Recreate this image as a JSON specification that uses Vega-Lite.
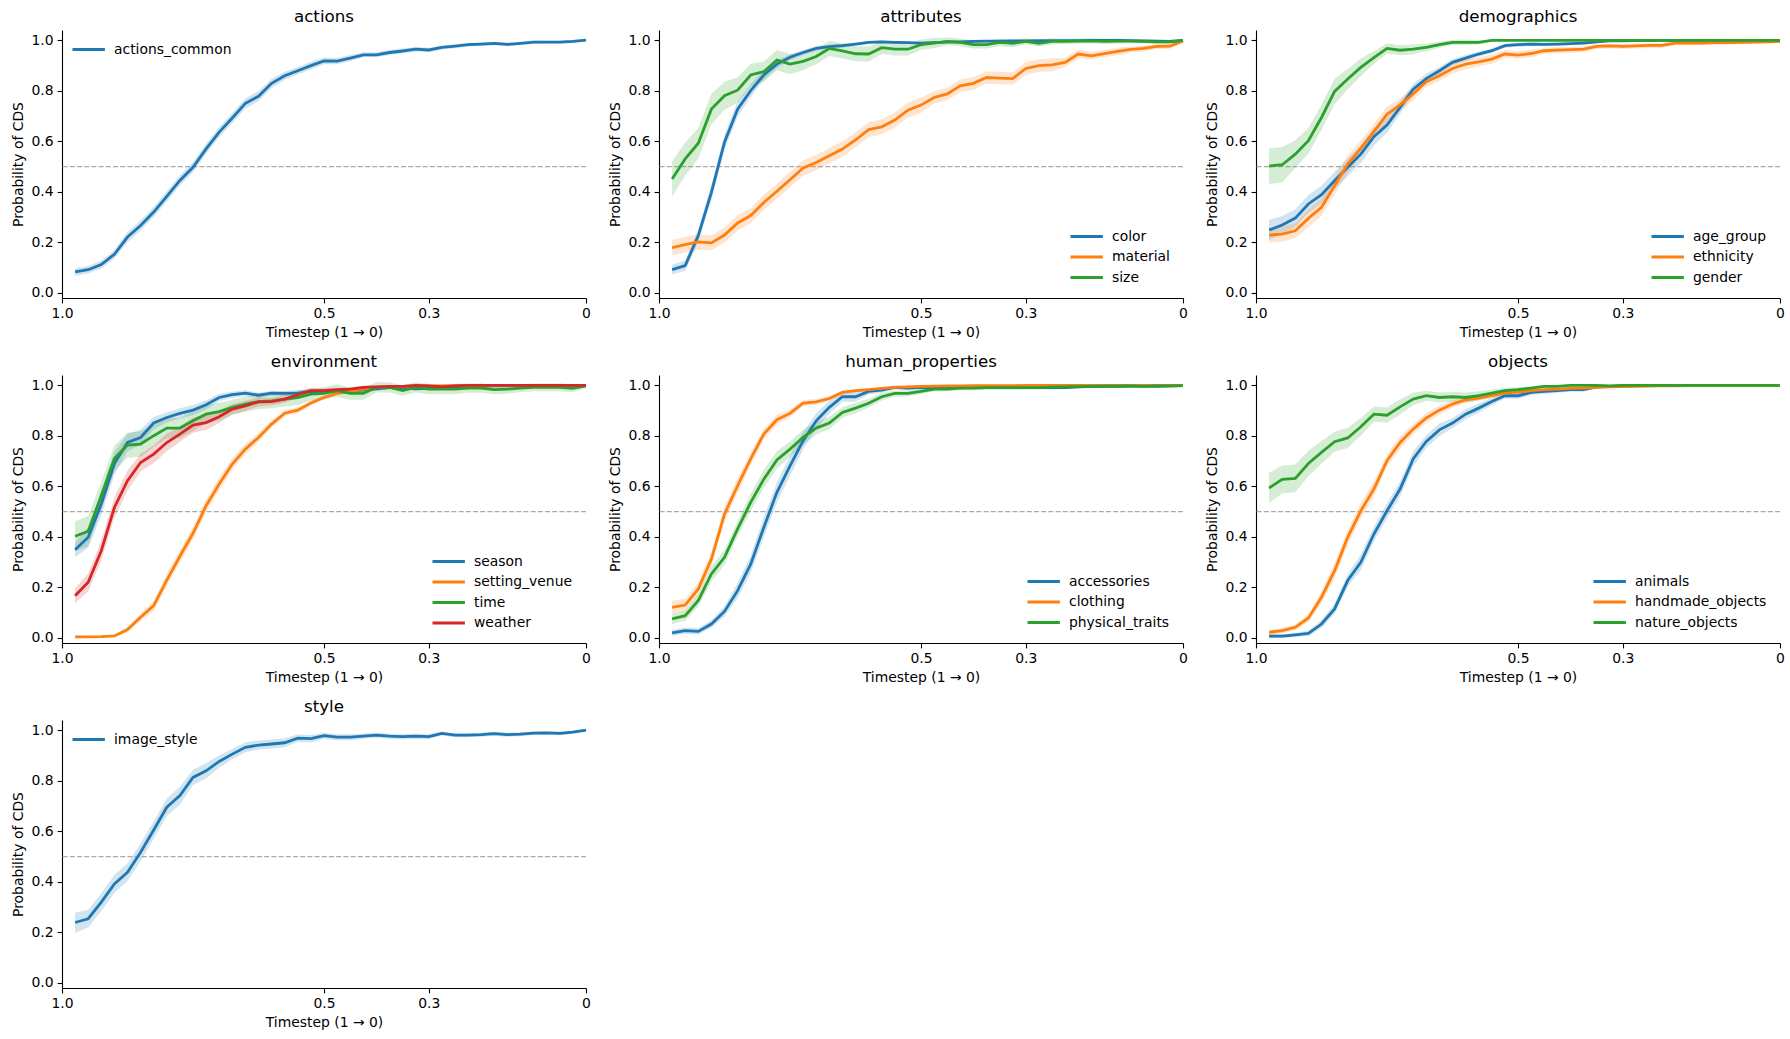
{
"$schema": "https://vega.github.io/schema/vega-lite/v6.json",
"padding": {"left": 11, "top": 9, "right": 5, "bottom": 5},
"background": "white",
"config": {
  "font": "DejaVu Sans",
  "view": {"stroke": null},
  "axis": {"grid": false, "domainColor": "#000", "domainWidth": 1.1, "tickColor": "#000", "tickWidth": 1.1, "tickSize": 4.9, "labelFontSize": 13.9, "labelColor": "#000", "labelPadding": 4, "titleFontSize": 13.9, "titleFontWeight": "normal", "titleColor": "#000", "titlePadding": 5, "labelFlush": false, "labelOverlap": false},
  "axisY": {"titlePadding": 6},
  "title": {"fontSize": 16.7, "fontWeight": "normal", "color": "#000", "offset": 4, "anchor": "middle", "frame": "group"},
  "legend": {"symbolType": "M-1,0H2.6", "symbolSize": 324, "symbolStrokeWidth": 2.8, "symbolOpacity": 1, "labelFontSize": 13.9, "labelColor": "#000", "labelOffset": 22, "rowPadding": 2.5, "padding": 0, "offset": 11}
},
"datasets": {"d": [
{"p":"actions","s":"actions_common","t":[0.975,0.95,0.925,0.9,0.875,0.85,0.825,0.8,0.775,0.75,0.725,0.7,0.675,0.65,0.625,0.6,0.575,0.55,0.525,0.5,0.475,0.45,0.425,0.4,0.375,0.35,0.325,0.3,0.275,0.25,0.225,0.2,0.175,0.15,0.125,0.1,0.075,0.05,0.025,0],
"y":[0.083,0.092,0.112,0.153,0.221,0.267,0.320,0.382,0.445,0.497,0.570,0.636,0.692,0.750,0.778,0.829,0.859,0.879,0.899,0.918,0.917,0.929,0.942,0.942,0.951,0.957,0.964,0.961,0.971,0.976,0.982,0.984,0.987,0.983,0.987,0.992,0.992,0.992,0.995,1.0],
"e":[0.015,0.015,0.015,0.017,0.02,0.02,0.02,0.02,0.02,0.02,0.02,0.02,0.02,0.02,0.02,0.018,0.016,0.015,0.015,0.013,0.012,0.012,0.01,0.01,0.01,0.01,0.009,0.009,0.008,0.008,0.007,0.007,0.007,0.007,0.006,0.006,0.005,0.005,0.005,0.003]},
{"p":"attributes","s":"color","t":[0.975,0.95,0.925,0.9,0.875,0.85,0.825,0.8,0.775,0.75,0.725,0.7,0.675,0.65,0.625,0.6,0.575,0.55,0.525,0.5,0.475,0.45,0.425,0.4,0.375,0.35,0.325,0.3,0.275,0.25,0.225,0.2,0.175,0.15,0.125,0.1,0.075,0.05,0.025,0],
"y":[0.092,0.108,0.227,0.398,0.596,0.727,0.800,0.862,0.905,0.932,0.951,0.967,0.974,0.978,0.984,0.991,0.993,0.991,0.990,0.988,0.990,0.992,0.993,0.995,0.996,0.996,0.997,0.997,0.998,0.998,0.998,0.998,0.999,0.999,0.999,0.998,0.997,0.996,0.995,0.999],
"e":[0.02,0.02,0.025,0.03,0.03,0.03,0.025,0.02,0.015,0.012,0.01,0.01,0.008,0.008,0.006,0.005,0.005,0.005,0.005,0.005,0.005,0.004,0.004,0.003,0.003,0.003,0.003,0.003,0.002,0.002,0.002,0.002,0.002,0.002,0.002,0.002,0.003,0.003,0.004,0.002]},
{"p":"attributes","s":"material","t":[0.975,0.95,0.925,0.9,0.875,0.85,0.825,0.8,0.775,0.75,0.725,0.7,0.675,0.65,0.625,0.6,0.575,0.55,0.525,0.5,0.475,0.45,0.425,0.4,0.375,0.35,0.325,0.3,0.275,0.25,0.225,0.2,0.175,0.15,0.125,0.1,0.075,0.05,0.025,0],
"y":[0.179,0.191,0.202,0.198,0.229,0.277,0.306,0.358,0.402,0.448,0.494,0.516,0.543,0.569,0.605,0.646,0.657,0.684,0.723,0.743,0.773,0.787,0.819,0.829,0.852,0.850,0.848,0.888,0.899,0.902,0.912,0.945,0.938,0.947,0.955,0.963,0.967,0.975,0.976,0.997],
"e":[0.03,0.03,0.03,0.03,0.03,0.03,0.03,0.03,0.03,0.03,0.03,0.03,0.03,0.03,0.03,0.03,0.03,0.03,0.03,0.03,0.025,0.025,0.025,0.025,0.025,0.025,0.025,0.025,0.025,0.025,0.018,0.018,0.015,0.015,0.015,0.012,0.012,0.01,0.01,0.006]},
{"p":"attributes","s":"size","t":[0.975,0.95,0.925,0.9,0.875,0.85,0.825,0.8,0.775,0.75,0.725,0.7,0.675,0.65,0.625,0.6,0.575,0.55,0.525,0.5,0.475,0.45,0.425,0.4,0.375,0.35,0.325,0.3,0.275,0.25,0.225,0.2,0.175,0.15,0.125,0.1,0.075,0.05,0.025,0],
"y":[0.451,0.530,0.592,0.727,0.780,0.802,0.862,0.875,0.921,0.905,0.916,0.935,0.967,0.957,0.946,0.945,0.970,0.964,0.964,0.982,0.988,0.995,0.991,0.982,0.982,0.991,0.987,0.995,0.987,0.995,0.995,0.996,0.997,0.995,0.996,0.996,0.995,0.993,0.993,0.999],
"e":[0.07,0.065,0.06,0.06,0.055,0.05,0.045,0.04,0.04,0.04,0.035,0.03,0.03,0.03,0.03,0.03,0.025,0.025,0.025,0.02,0.02,0.015,0.015,0.015,0.015,0.015,0.015,0.012,0.012,0.012,0.01,0.01,0.01,0.01,0.01,0.008,0.008,0.008,0.008,0.005]},
{"p":"demographics","s":"age_group","t":[0.975,0.95,0.925,0.9,0.875,0.85,0.825,0.8,0.775,0.75,0.725,0.7,0.675,0.65,0.625,0.6,0.575,0.55,0.525,0.5,0.475,0.45,0.425,0.4,0.375,0.35,0.325,0.3,0.275,0.25,0.225,0.2,0.175,0.15,0.125,0.1,0.075,0.05,0.025,0],
"y":[0.249,0.269,0.296,0.352,0.389,0.444,0.497,0.549,0.618,0.664,0.734,0.806,0.848,0.879,0.912,0.929,0.945,0.958,0.978,0.982,0.984,0.983,0.984,0.986,0.988,0.993,0.997,0.997,0.998,0.998,0.999,0.999,0.999,0.999,0.999,0.999,0.999,0.999,0.999,0.999],
"e":[0.04,0.035,0.035,0.035,0.035,0.035,0.035,0.035,0.035,0.03,0.025,0.02,0.02,0.015,0.012,0.012,0.01,0.01,0.008,0.008,0.008,0.007,0.007,0.006,0.005,0.005,0.004,0.003,0.003,0.003,0.002,0.002,0.002,0.002,0.002,0.002,0.002,0.002,0.002,0.002]},
{"p":"demographics","s":"ethnicity","t":[0.975,0.95,0.925,0.9,0.875,0.85,0.825,0.8,0.775,0.75,0.725,0.7,0.675,0.65,0.625,0.6,0.575,0.55,0.525,0.5,0.475,0.45,0.425,0.4,0.375,0.35,0.325,0.3,0.275,0.25,0.225,0.2,0.175,0.15,0.125,0.1,0.075,0.05,0.025,0],
"y":[0.229,0.233,0.246,0.295,0.339,0.424,0.510,0.572,0.638,0.707,0.744,0.787,0.835,0.859,0.888,0.905,0.914,0.925,0.945,0.941,0.947,0.958,0.960,0.962,0.964,0.975,0.977,0.975,0.977,0.979,0.979,0.988,0.988,0.988,0.990,0.990,0.991,0.992,0.993,0.995],
"e":[0.03,0.03,0.03,0.035,0.035,0.035,0.035,0.03,0.03,0.03,0.025,0.025,0.02,0.02,0.02,0.02,0.018,0.018,0.015,0.015,0.015,0.012,0.012,0.012,0.012,0.01,0.01,0.01,0.01,0.01,0.01,0.008,0.008,0.008,0.008,0.007,0.007,0.007,0.006,0.006]},
{"p":"demographics","s":"gender","t":[0.975,0.95,0.925,0.9,0.875,0.85,0.825,0.8,0.775,0.75,0.725,0.7,0.675,0.65,0.625,0.6,0.575,0.55,0.525,0.5,0.475,0.45,0.425,0.4,0.375,0.35,0.325,0.3,0.275,0.25,0.225,0.2,0.175,0.15,0.125,0.1,0.075,0.05,0.025,0],
"y":[0.502,0.507,0.549,0.602,0.694,0.797,0.846,0.892,0.931,0.967,0.960,0.964,0.971,0.982,0.991,0.991,0.991,0.999,0.999,0.999,0.999,0.999,0.999,0.999,0.999,0.999,0.999,0.999,0.999,0.999,0.999,0.999,0.999,0.999,0.999,0.999,0.999,0.999,0.999,0.999],
"e":[0.07,0.07,0.055,0.05,0.05,0.05,0.04,0.035,0.025,0.02,0.02,0.02,0.015,0.012,0.01,0.01,0.008,0.003,0.002,0.002,0.002,0.002,0.002,0.002,0.002,0.002,0.002,0.002,0.002,0.002,0.002,0.002,0.002,0.002,0.002,0.002,0.002,0.002,0.002,0.002]},
{"p":"environment","s":"season","t":[0.975,0.95,0.925,0.9,0.875,0.85,0.825,0.8,0.775,0.75,0.725,0.7,0.675,0.65,0.625,0.6,0.575,0.55,0.525,0.5,0.475,0.45,0.425,0.4,0.375,0.35,0.325,0.3,0.275,0.25,0.225,0.2,0.175,0.15,0.125,0.1,0.075,0.05,0.025,0],
"y":[0.349,0.398,0.530,0.690,0.773,0.793,0.850,0.872,0.888,0.901,0.922,0.951,0.962,0.968,0.960,0.968,0.967,0.968,0.975,0.974,0.975,0.977,0.980,0.985,0.990,0.990,0.985,0.988,0.990,0.990,0.990,0.995,0.997,0.997,0.997,0.998,0.998,0.998,0.998,0.999],
"e":[0.03,0.04,0.045,0.045,0.035,0.03,0.025,0.02,0.02,0.02,0.018,0.015,0.012,0.012,0.01,0.01,0.01,0.01,0.01,0.01,0.008,0.008,0.008,0.007,0.006,0.006,0.006,0.006,0.005,0.005,0.005,0.004,0.003,0.003,0.003,0.003,0.003,0.003,0.003,0.002]},
{"p":"environment","s":"setting_venue","t":[0.975,0.95,0.925,0.9,0.875,0.85,0.825,0.8,0.775,0.75,0.725,0.7,0.675,0.65,0.625,0.6,0.575,0.55,0.525,0.5,0.475,0.45,0.425,0.4,0.375,0.35,0.325,0.3,0.275,0.25,0.225,0.2,0.175,0.15,0.125,0.1,0.075,0.05,0.025,0],
"y":[0.004,0.004,0.005,0.008,0.033,0.082,0.128,0.229,0.323,0.414,0.523,0.609,0.688,0.747,0.793,0.846,0.889,0.901,0.929,0.951,0.967,0.975,0.984,0.991,0.993,0.995,0.996,0.997,0.997,0.998,0.998,0.998,0.999,0.999,0.999,0.999,0.999,0.999,0.999,0.999],
"e":[0.003,0.003,0.003,0.004,0.01,0.015,0.02,0.025,0.025,0.025,0.025,0.025,0.022,0.02,0.018,0.015,0.012,0.012,0.01,0.008,0.006,0.005,0.005,0.004,0.003,0.003,0.003,0.003,0.003,0.003,0.003,0.003,0.003,0.003,0.003,0.003,0.003,0.003,0.003,0.003]},
{"p":"environment","s":"time","t":[0.975,0.95,0.925,0.9,0.875,0.85,0.825,0.8,0.775,0.75,0.725,0.7,0.675,0.65,0.625,0.6,0.575,0.55,0.525,0.5,0.475,0.45,0.425,0.4,0.375,0.35,0.325,0.3,0.275,0.25,0.225,0.2,0.175,0.15,0.125,0.1,0.075,0.05,0.025,0],
"y":[0.402,0.422,0.563,0.710,0.763,0.767,0.800,0.830,0.830,0.859,0.885,0.895,0.912,0.925,0.935,0.938,0.945,0.951,0.964,0.967,0.978,0.967,0.967,0.991,0.991,0.978,0.991,0.984,0.984,0.984,0.988,0.988,0.982,0.984,0.988,0.991,0.991,0.991,0.987,0.997],
"e":[0.06,0.06,0.055,0.05,0.05,0.05,0.045,0.04,0.04,0.04,0.035,0.035,0.03,0.03,0.03,0.03,0.03,0.03,0.025,0.025,0.025,0.025,0.025,0.02,0.02,0.02,0.02,0.02,0.02,0.02,0.018,0.018,0.018,0.018,0.015,0.015,0.015,0.015,0.015,0.008]},
{"p":"environment","s":"weather","t":[0.975,0.95,0.925,0.9,0.875,0.85,0.825,0.8,0.775,0.75,0.725,0.7,0.675,0.65,0.625,0.6,0.575,0.55,0.525,0.5,0.475,0.45,0.425,0.4,0.375,0.35,0.325,0.3,0.275,0.25,0.225,0.2,0.175,0.15,0.125,0.1,0.075,0.05,0.025,0],
"y":[0.167,0.220,0.345,0.516,0.622,0.694,0.727,0.773,0.806,0.842,0.852,0.875,0.905,0.918,0.934,0.935,0.945,0.962,0.978,0.978,0.982,0.984,0.991,0.993,0.995,0.995,0.999,0.997,0.993,0.997,0.999,0.999,0.999,0.999,0.999,0.999,0.999,0.999,0.999,0.999],
"e":[0.03,0.035,0.04,0.04,0.04,0.035,0.035,0.035,0.03,0.03,0.03,0.025,0.02,0.02,0.018,0.015,0.015,0.012,0.01,0.01,0.008,0.008,0.006,0.005,0.005,0.005,0.003,0.003,0.003,0.003,0.003,0.003,0.003,0.003,0.003,0.003,0.003,0.003,0.003,0.003]},
{"p":"human_properties","s":"accessories","t":[0.975,0.95,0.925,0.9,0.875,0.85,0.825,0.8,0.775,0.75,0.725,0.7,0.675,0.65,0.625,0.6,0.575,0.55,0.525,0.5,0.475,0.45,0.425,0.4,0.375,0.35,0.325,0.3,0.275,0.25,0.225,0.2,0.175,0.15,0.125,0.1,0.075,0.05,0.025,0],
"y":[0.020,0.029,0.026,0.055,0.105,0.187,0.292,0.437,0.576,0.681,0.780,0.859,0.912,0.954,0.954,0.975,0.980,0.991,0.988,0.991,0.990,0.990,0.990,0.990,0.990,0.990,0.990,0.990,0.990,0.990,0.990,0.993,0.995,0.995,0.995,0.996,0.997,0.995,0.997,0.998],
"e":[0.012,0.012,0.012,0.015,0.02,0.03,0.035,0.04,0.04,0.04,0.035,0.03,0.025,0.02,0.02,0.012,0.01,0.008,0.008,0.008,0.007,0.007,0.007,0.007,0.007,0.007,0.007,0.007,0.007,0.007,0.006,0.006,0.006,0.006,0.006,0.006,0.006,0.006,0.006,0.006]},
{"p":"human_properties","s":"clothing","t":[0.975,0.95,0.925,0.9,0.875,0.85,0.825,0.8,0.775,0.75,0.725,0.7,0.675,0.65,0.625,0.6,0.575,0.55,0.525,0.5,0.475,0.45,0.425,0.4,0.375,0.35,0.325,0.3,0.275,0.25,0.225,0.2,0.175,0.15,0.125,0.1,0.075,0.05,0.025,0],
"y":[0.121,0.130,0.194,0.312,0.490,0.602,0.708,0.806,0.863,0.888,0.929,0.934,0.947,0.971,0.978,0.982,0.987,0.991,0.993,0.995,0.996,0.997,0.997,0.998,0.998,0.998,0.998,0.999,0.999,0.999,0.999,0.999,0.999,0.999,0.999,0.999,0.999,0.999,0.999,0.999],
"e":[0.025,0.025,0.025,0.03,0.03,0.03,0.025,0.02,0.02,0.015,0.012,0.012,0.01,0.008,0.007,0.006,0.005,0.005,0.004,0.004,0.003,0.003,0.003,0.003,0.003,0.003,0.003,0.003,0.003,0.003,0.003,0.003,0.003,0.003,0.003,0.003,0.003,0.003,0.003,0.003]},
{"p":"human_properties","s":"physical_traits","t":[0.975,0.95,0.925,0.9,0.875,0.85,0.825,0.8,0.775,0.75,0.725,0.7,0.675,0.65,0.625,0.6,0.575,0.55,0.525,0.5,0.475,0.45,0.425,0.4,0.375,0.35,0.325,0.3,0.275,0.25,0.225,0.2,0.175,0.15,0.125,0.1,0.075,0.05,0.025,0],
"y":[0.075,0.088,0.148,0.253,0.319,0.431,0.536,0.628,0.704,0.747,0.793,0.830,0.850,0.892,0.909,0.928,0.954,0.967,0.967,0.975,0.984,0.984,0.988,0.988,0.990,0.990,0.990,0.990,0.990,0.992,0.993,0.994,0.995,0.996,0.996,0.997,0.995,0.997,0.997,0.998],
"e":[0.02,0.02,0.025,0.03,0.03,0.03,0.035,0.035,0.035,0.03,0.03,0.025,0.025,0.02,0.02,0.018,0.015,0.012,0.012,0.01,0.008,0.008,0.007,0.006,0.006,0.006,0.006,0.006,0.006,0.005,0.005,0.005,0.005,0.005,0.005,0.005,0.005,0.005,0.005,0.005]},
{"p":"objects","s":"animals","t":[0.975,0.95,0.925,0.9,0.875,0.85,0.825,0.8,0.775,0.75,0.725,0.7,0.675,0.65,0.625,0.6,0.575,0.55,0.525,0.5,0.475,0.45,0.425,0.4,0.375,0.35,0.325,0.3,0.275,0.25,0.225,0.2,0.175,0.15,0.125,0.1,0.075,0.05,0.025,0],
"y":[0.007,0.007,0.012,0.018,0.055,0.115,0.227,0.299,0.411,0.503,0.589,0.708,0.777,0.823,0.850,0.885,0.909,0.935,0.958,0.958,0.971,0.975,0.978,0.982,0.982,0.993,0.995,0.997,0.998,0.998,0.999,0.999,0.999,0.999,0.999,0.999,0.999,0.999,0.999,0.999],
"e":[0.008,0.008,0.008,0.01,0.015,0.02,0.025,0.03,0.03,0.03,0.03,0.03,0.025,0.025,0.02,0.02,0.018,0.015,0.012,0.012,0.01,0.01,0.008,0.008,0.008,0.006,0.005,0.004,0.004,0.003,0.003,0.003,0.003,0.003,0.003,0.003,0.003,0.003,0.003,0.003]},
{"p":"objects","s":"handmade_objects","t":[0.975,0.95,0.925,0.9,0.875,0.85,0.825,0.8,0.775,0.75,0.725,0.7,0.675,0.65,0.625,0.6,0.575,0.55,0.525,0.5,0.475,0.45,0.425,0.4,0.375,0.35,0.325,0.3,0.275,0.25,0.225,0.2,0.175,0.15,0.125,0.1,0.075,0.05,0.025,0],
"y":[0.022,0.029,0.042,0.079,0.161,0.266,0.398,0.503,0.589,0.701,0.773,0.826,0.870,0.901,0.925,0.942,0.949,0.958,0.968,0.972,0.978,0.982,0.984,0.987,0.988,0.991,0.993,0.994,0.995,0.996,0.997,0.997,0.998,0.998,0.998,0.999,0.999,0.999,0.999,0.999],
"e":[0.01,0.01,0.012,0.015,0.025,0.03,0.03,0.03,0.03,0.025,0.025,0.02,0.02,0.018,0.015,0.012,0.01,0.01,0.008,0.008,0.007,0.006,0.006,0.005,0.005,0.004,0.004,0.004,0.004,0.004,0.004,0.004,0.004,0.004,0.004,0.004,0.004,0.004,0.004,0.004]},
{"p":"objects","s":"nature_objects","t":[0.975,0.95,0.925,0.9,0.875,0.85,0.825,0.8,0.775,0.75,0.725,0.7,0.675,0.65,0.625,0.6,0.575,0.55,0.525,0.5,0.475,0.45,0.425,0.4,0.375,0.35,0.325,0.3,0.275,0.25,0.225,0.2,0.175,0.15,0.125,0.1,0.075,0.05,0.025,0],
"y":[0.593,0.627,0.631,0.690,0.734,0.776,0.791,0.835,0.885,0.881,0.914,0.945,0.958,0.951,0.954,0.951,0.958,0.968,0.978,0.982,0.988,0.995,0.995,0.999,0.999,0.999,0.997,0.999,0.999,0.999,0.999,0.999,0.999,0.999,0.999,0.999,0.999,0.999,0.999,0.999],
"e":[0.06,0.055,0.055,0.05,0.045,0.04,0.04,0.035,0.03,0.03,0.03,0.025,0.02,0.02,0.02,0.02,0.018,0.015,0.012,0.01,0.008,0.006,0.005,0.003,0.003,0.003,0.003,0.002,0.002,0.002,0.002,0.002,0.002,0.002,0.002,0.002,0.002,0.002,0.002,0.002]},
{"p":"style","s":"image_style","t":[0.975,0.95,0.925,0.9,0.875,0.85,0.825,0.8,0.775,0.75,0.725,0.7,0.675,0.65,0.625,0.6,0.575,0.55,0.525,0.5,0.475,0.45,0.425,0.4,0.375,0.35,0.325,0.3,0.275,0.25,0.225,0.2,0.175,0.15,0.125,0.1,0.075,0.05,0.025,0],
"y":[0.239,0.254,0.320,0.392,0.438,0.517,0.605,0.695,0.741,0.813,0.839,0.876,0.905,0.932,0.941,0.945,0.950,0.968,0.966,0.978,0.972,0.972,0.976,0.980,0.976,0.974,0.976,0.974,0.987,0.980,0.980,0.982,0.986,0.982,0.984,0.988,0.989,0.987,0.992,1.0],
"e":[0.04,0.035,0.035,0.035,0.035,0.035,0.035,0.035,0.035,0.03,0.03,0.025,0.02,0.02,0.018,0.018,0.018,0.015,0.015,0.012,0.012,0.012,0.01,0.01,0.01,0.01,0.01,0.01,0.008,0.008,0.008,0.008,0.008,0.008,0.008,0.007,0.007,0.007,0.006,0.004]}
]},
"data": {"name": "d"},
"columns": 3,
"spacing": {"row": 14, "column": 16},
"resolve": {"scale": {"color": "independent", "fill": "independent", "x": "independent", "y": "independent"}, "legend": {"color": "independent", "fill": "independent"}},
"concat": [
{"title": "actions", "width": 524, "height": 268,
 "transform": [{"filter": "datum.p == 'actions'"}, {"flatten": ["t", "y", "e"]}],
 "layer": [
  {"transform": [{"aggregate": [{"op": "count", "as": "n"}]}], "mark": {"type": "rule", "color": "#aaaaaa", "strokeWidth": 1.3, "strokeDash": [5, 2.2]}, "encoding": {"y": {"datum": 0.5, "type": "quantitative"}}},
  {"mark": {"type": "errorband", "band": {"opacity": 0.2}}, "encoding": {
    "x": {"field": "t", "type": "quantitative", "scale": {"domain": [0, 1], "reverse": true, "nice": false, "zero": false}, "axis": {"values": [1, 0.5, 0.3, 0], "labelExpr": "datum.value == 1 ? '1.0' : datum.value == 0 ? '0' : format(datum.value, '.1f')", "title": "Timestep (1 → 0)"}},
    "y": {"field": "y", "type": "quantitative", "scale": {"domain": [-0.02, 1.04], "nice": false, "zero": false}, "axis": {"values": [0, 0.2, 0.4, 0.6, 0.8, 1], "format": ".1f", "title": "Probability of CDS"}},
    "yError": {"field": "e"},
    "fill": {"field": "s", "type": "nominal", "scale": {"domain": ["actions_common", "_"], "range": ["#1f77b4", "#000000"]}, "legend": null}}},
  {"mark": {"type": "line", "strokeWidth": 2.8}, "encoding": {
    "x": {"field": "t", "type": "quantitative", "scale": {"domain": [0, 1], "reverse": true, "nice": false, "zero": false}, "axis": {"values": [1, 0.5, 0.3, 0], "labelExpr": "datum.value == 1 ? '1.0' : datum.value == 0 ? '0' : format(datum.value, '.1f')", "title": "Timestep (1 → 0)"}},
    "y": {"field": "y", "type": "quantitative", "scale": {"domain": [-0.02, 1.04], "nice": false, "zero": false}, "axis": {"values": [0, 0.2, 0.4, 0.6, 0.8, 1], "format": ".1f", "title": "Probability of CDS"}},
    "color": {"field": "s", "type": "nominal", "scale": {"domain": ["actions_common"], "range": ["#1f77b4"]}, "legend": {"orient": "top-left", "offset": 9, "title": null, "symbolType": "M-1,0H2.6"}}}}
 ]},
{"title": "attributes", "width": 524, "height": 268,
 "transform": [{"filter": "datum.p == 'attributes'"}, {"flatten": ["t", "y", "e"]}],
 "layer": [
  {"transform": [{"aggregate": [{"op": "count", "as": "n"}]}], "mark": {"type": "rule", "color": "#aaaaaa", "strokeWidth": 1.3, "strokeDash": [5, 2.2]}, "encoding": {"y": {"datum": 0.5, "type": "quantitative"}}},
  {"mark": {"type": "errorband", "band": {"opacity": 0.2}}, "encoding": {
    "x": {"field": "t", "type": "quantitative", "scale": {"domain": [0, 1], "reverse": true, "nice": false, "zero": false}, "axis": {"values": [1, 0.5, 0.3, 0], "labelExpr": "datum.value == 1 ? '1.0' : datum.value == 0 ? '0' : format(datum.value, '.1f')", "title": "Timestep (1 → 0)"}},
    "y": {"field": "y", "type": "quantitative", "scale": {"domain": [-0.02, 1.04], "nice": false, "zero": false}, "axis": {"values": [0, 0.2, 0.4, 0.6, 0.8, 1], "format": ".1f", "title": "Probability of CDS"}},
    "yError": {"field": "e"},
    "fill": {"field": "s", "type": "nominal", "scale": {"domain": ["color", "material", "size", "_"], "range": ["#1f77b4", "#ff7f0e", "#2ca02c", "#000000"]}, "legend": null}}},
  {"mark": {"type": "line", "strokeWidth": 2.8}, "encoding": {
    "x": {"field": "t", "type": "quantitative", "scale": {"domain": [0, 1], "reverse": true, "nice": false, "zero": false}, "axis": {"values": [1, 0.5, 0.3, 0], "labelExpr": "datum.value == 1 ? '1.0' : datum.value == 0 ? '0' : format(datum.value, '.1f')", "title": "Timestep (1 → 0)"}},
    "y": {"field": "y", "type": "quantitative", "scale": {"domain": [-0.02, 1.04], "nice": false, "zero": false}, "axis": {"values": [0, 0.2, 0.4, 0.6, 0.8, 1], "format": ".1f", "title": "Probability of CDS"}},
    "color": {"field": "s", "type": "nominal", "scale": {"domain": ["color", "material", "size"], "range": ["#1f77b4", "#ff7f0e", "#2ca02c"]}, "legend": {"orient": "bottom-right", "offset": 13, "title": null, "symbolType": "M-1,0H2.6"}}}}
 ]},
{"title": "demographics", "width": 524, "height": 268,
 "transform": [{"filter": "datum.p == 'demographics'"}, {"flatten": ["t", "y", "e"]}],
 "layer": [
  {"transform": [{"aggregate": [{"op": "count", "as": "n"}]}], "mark": {"type": "rule", "color": "#aaaaaa", "strokeWidth": 1.3, "strokeDash": [5, 2.2]}, "encoding": {"y": {"datum": 0.5, "type": "quantitative"}}},
  {"mark": {"type": "errorband", "band": {"opacity": 0.2}}, "encoding": {
    "x": {"field": "t", "type": "quantitative", "scale": {"domain": [0, 1], "reverse": true, "nice": false, "zero": false}, "axis": {"values": [1, 0.5, 0.3, 0], "labelExpr": "datum.value == 1 ? '1.0' : datum.value == 0 ? '0' : format(datum.value, '.1f')", "title": "Timestep (1 → 0)"}},
    "y": {"field": "y", "type": "quantitative", "scale": {"domain": [-0.02, 1.04], "nice": false, "zero": false}, "axis": {"values": [0, 0.2, 0.4, 0.6, 0.8, 1], "format": ".1f", "title": "Probability of CDS"}},
    "yError": {"field": "e"},
    "fill": {"field": "s", "type": "nominal", "scale": {"domain": ["age_group", "ethnicity", "gender", "_"], "range": ["#1f77b4", "#ff7f0e", "#2ca02c", "#000000"]}, "legend": null}}},
  {"mark": {"type": "line", "strokeWidth": 2.8}, "encoding": {
    "x": {"field": "t", "type": "quantitative", "scale": {"domain": [0, 1], "reverse": true, "nice": false, "zero": false}, "axis": {"values": [1, 0.5, 0.3, 0], "labelExpr": "datum.value == 1 ? '1.0' : datum.value == 0 ? '0' : format(datum.value, '.1f')", "title": "Timestep (1 → 0)"}},
    "y": {"field": "y", "type": "quantitative", "scale": {"domain": [-0.02, 1.04], "nice": false, "zero": false}, "axis": {"values": [0, 0.2, 0.4, 0.6, 0.8, 1], "format": ".1f", "title": "Probability of CDS"}},
    "color": {"field": "s", "type": "nominal", "scale": {"domain": ["age_group", "ethnicity", "gender"], "range": ["#1f77b4", "#ff7f0e", "#2ca02c"]}, "legend": {"orient": "bottom-right", "offset": 13, "title": null, "symbolType": "M-1,0H2.6"}}}}
 ]},
{"title": "environment", "width": 524, "height": 268,
 "transform": [{"filter": "datum.p == 'environment'"}, {"flatten": ["t", "y", "e"]}],
 "layer": [
  {"transform": [{"aggregate": [{"op": "count", "as": "n"}]}], "mark": {"type": "rule", "color": "#aaaaaa", "strokeWidth": 1.3, "strokeDash": [5, 2.2]}, "encoding": {"y": {"datum": 0.5, "type": "quantitative"}}},
  {"mark": {"type": "errorband", "band": {"opacity": 0.2}}, "encoding": {
    "x": {"field": "t", "type": "quantitative", "scale": {"domain": [0, 1], "reverse": true, "nice": false, "zero": false}, "axis": {"values": [1, 0.5, 0.3, 0], "labelExpr": "datum.value == 1 ? '1.0' : datum.value == 0 ? '0' : format(datum.value, '.1f')", "title": "Timestep (1 → 0)"}},
    "y": {"field": "y", "type": "quantitative", "scale": {"domain": [-0.02, 1.04], "nice": false, "zero": false}, "axis": {"values": [0, 0.2, 0.4, 0.6, 0.8, 1], "format": ".1f", "title": "Probability of CDS"}},
    "yError": {"field": "e"},
    "fill": {"field": "s", "type": "nominal", "scale": {"domain": ["season", "setting_venue", "time", "weather", "_"], "range": ["#1f77b4", "#ff7f0e", "#2ca02c", "#d62728", "#000000"]}, "legend": null}}},
  {"mark": {"type": "line", "strokeWidth": 2.8}, "encoding": {
    "x": {"field": "t", "type": "quantitative", "scale": {"domain": [0, 1], "reverse": true, "nice": false, "zero": false}, "axis": {"values": [1, 0.5, 0.3, 0], "labelExpr": "datum.value == 1 ? '1.0' : datum.value == 0 ? '0' : format(datum.value, '.1f')", "title": "Timestep (1 → 0)"}},
    "y": {"field": "y", "type": "quantitative", "scale": {"domain": [-0.02, 1.04], "nice": false, "zero": false}, "axis": {"values": [0, 0.2, 0.4, 0.6, 0.8, 1], "format": ".1f", "title": "Probability of CDS"}},
    "color": {"field": "s", "type": "nominal", "scale": {"domain": ["season", "setting_venue", "time", "weather"], "range": ["#1f77b4", "#ff7f0e", "#2ca02c", "#d62728"]}, "legend": {"orient": "bottom-right", "offset": 13, "title": null, "symbolType": "M-1,0H2.6"}}}}
 ]},
{"title": "human_properties", "width": 524, "height": 268,
 "transform": [{"filter": "datum.p == 'human_properties'"}, {"flatten": ["t", "y", "e"]}],
 "layer": [
  {"transform": [{"aggregate": [{"op": "count", "as": "n"}]}], "mark": {"type": "rule", "color": "#aaaaaa", "strokeWidth": 1.3, "strokeDash": [5, 2.2]}, "encoding": {"y": {"datum": 0.5, "type": "quantitative"}}},
  {"mark": {"type": "errorband", "band": {"opacity": 0.2}}, "encoding": {
    "x": {"field": "t", "type": "quantitative", "scale": {"domain": [0, 1], "reverse": true, "nice": false, "zero": false}, "axis": {"values": [1, 0.5, 0.3, 0], "labelExpr": "datum.value == 1 ? '1.0' : datum.value == 0 ? '0' : format(datum.value, '.1f')", "title": "Timestep (1 → 0)"}},
    "y": {"field": "y", "type": "quantitative", "scale": {"domain": [-0.02, 1.04], "nice": false, "zero": false}, "axis": {"values": [0, 0.2, 0.4, 0.6, 0.8, 1], "format": ".1f", "title": "Probability of CDS"}},
    "yError": {"field": "e"},
    "fill": {"field": "s", "type": "nominal", "scale": {"domain": ["accessories", "clothing", "physical_traits", "_"], "range": ["#1f77b4", "#ff7f0e", "#2ca02c", "#000000"]}, "legend": null}}},
  {"mark": {"type": "line", "strokeWidth": 2.8}, "encoding": {
    "x": {"field": "t", "type": "quantitative", "scale": {"domain": [0, 1], "reverse": true, "nice": false, "zero": false}, "axis": {"values": [1, 0.5, 0.3, 0], "labelExpr": "datum.value == 1 ? '1.0' : datum.value == 0 ? '0' : format(datum.value, '.1f')", "title": "Timestep (1 → 0)"}},
    "y": {"field": "y", "type": "quantitative", "scale": {"domain": [-0.02, 1.04], "nice": false, "zero": false}, "axis": {"values": [0, 0.2, 0.4, 0.6, 0.8, 1], "format": ".1f", "title": "Probability of CDS"}},
    "color": {"field": "s", "type": "nominal", "scale": {"domain": ["accessories", "clothing", "physical_traits"], "range": ["#1f77b4", "#ff7f0e", "#2ca02c"]}, "legend": {"orient": "bottom-right", "offset": 13, "title": null, "symbolType": "M-1,0H2.6"}}}}
 ]},
{"title": "objects", "width": 524, "height": 268,
 "transform": [{"filter": "datum.p == 'objects'"}, {"flatten": ["t", "y", "e"]}],
 "layer": [
  {"transform": [{"aggregate": [{"op": "count", "as": "n"}]}], "mark": {"type": "rule", "color": "#aaaaaa", "strokeWidth": 1.3, "strokeDash": [5, 2.2]}, "encoding": {"y": {"datum": 0.5, "type": "quantitative"}}},
  {"mark": {"type": "errorband", "band": {"opacity": 0.2}}, "encoding": {
    "x": {"field": "t", "type": "quantitative", "scale": {"domain": [0, 1], "reverse": true, "nice": false, "zero": false}, "axis": {"values": [1, 0.5, 0.3, 0], "labelExpr": "datum.value == 1 ? '1.0' : datum.value == 0 ? '0' : format(datum.value, '.1f')", "title": "Timestep (1 → 0)"}},
    "y": {"field": "y", "type": "quantitative", "scale": {"domain": [-0.02, 1.04], "nice": false, "zero": false}, "axis": {"values": [0, 0.2, 0.4, 0.6, 0.8, 1], "format": ".1f", "title": "Probability of CDS"}},
    "yError": {"field": "e"},
    "fill": {"field": "s", "type": "nominal", "scale": {"domain": ["animals", "handmade_objects", "nature_objects", "_"], "range": ["#1f77b4", "#ff7f0e", "#2ca02c", "#000000"]}, "legend": null}}},
  {"mark": {"type": "line", "strokeWidth": 2.8}, "encoding": {
    "x": {"field": "t", "type": "quantitative", "scale": {"domain": [0, 1], "reverse": true, "nice": false, "zero": false}, "axis": {"values": [1, 0.5, 0.3, 0], "labelExpr": "datum.value == 1 ? '1.0' : datum.value == 0 ? '0' : format(datum.value, '.1f')", "title": "Timestep (1 → 0)"}},
    "y": {"field": "y", "type": "quantitative", "scale": {"domain": [-0.02, 1.04], "nice": false, "zero": false}, "axis": {"values": [0, 0.2, 0.4, 0.6, 0.8, 1], "format": ".1f", "title": "Probability of CDS"}},
    "color": {"field": "s", "type": "nominal", "scale": {"domain": ["animals", "handmade_objects", "nature_objects"], "range": ["#1f77b4", "#ff7f0e", "#2ca02c"]}, "legend": {"orient": "bottom-right", "offset": 13, "title": null, "symbolType": "M-1,0H2.6"}}}}
 ]},
{"title": "style", "width": 524, "height": 268,
 "transform": [{"filter": "datum.p == 'style'"}, {"flatten": ["t", "y", "e"]}],
 "layer": [
  {"transform": [{"aggregate": [{"op": "count", "as": "n"}]}], "mark": {"type": "rule", "color": "#aaaaaa", "strokeWidth": 1.3, "strokeDash": [5, 2.2]}, "encoding": {"y": {"datum": 0.5, "type": "quantitative"}}},
  {"mark": {"type": "errorband", "band": {"opacity": 0.2}}, "encoding": {
    "x": {"field": "t", "type": "quantitative", "scale": {"domain": [0, 1], "reverse": true, "nice": false, "zero": false}, "axis": {"values": [1, 0.5, 0.3, 0], "labelExpr": "datum.value == 1 ? '1.0' : datum.value == 0 ? '0' : format(datum.value, '.1f')", "title": "Timestep (1 → 0)"}},
    "y": {"field": "y", "type": "quantitative", "scale": {"domain": [-0.02, 1.04], "nice": false, "zero": false}, "axis": {"values": [0, 0.2, 0.4, 0.6, 0.8, 1], "format": ".1f", "title": "Probability of CDS"}},
    "yError": {"field": "e"},
    "fill": {"field": "s", "type": "nominal", "scale": {"domain": ["image_style", "_"], "range": ["#1f77b4", "#000000"]}, "legend": null}}},
  {"mark": {"type": "line", "strokeWidth": 2.8}, "encoding": {
    "x": {"field": "t", "type": "quantitative", "scale": {"domain": [0, 1], "reverse": true, "nice": false, "zero": false}, "axis": {"values": [1, 0.5, 0.3, 0], "labelExpr": "datum.value == 1 ? '1.0' : datum.value == 0 ? '0' : format(datum.value, '.1f')", "title": "Timestep (1 → 0)"}},
    "y": {"field": "y", "type": "quantitative", "scale": {"domain": [-0.02, 1.04], "nice": false, "zero": false}, "axis": {"values": [0, 0.2, 0.4, 0.6, 0.8, 1], "format": ".1f", "title": "Probability of CDS"}},
    "color": {"field": "s", "type": "nominal", "scale": {"domain": ["image_style"], "range": ["#1f77b4"]}, "legend": {"orient": "top-left", "offset": 9, "title": null, "symbolType": "M-1,0H2.6"}}}}
 ]}
]
}
